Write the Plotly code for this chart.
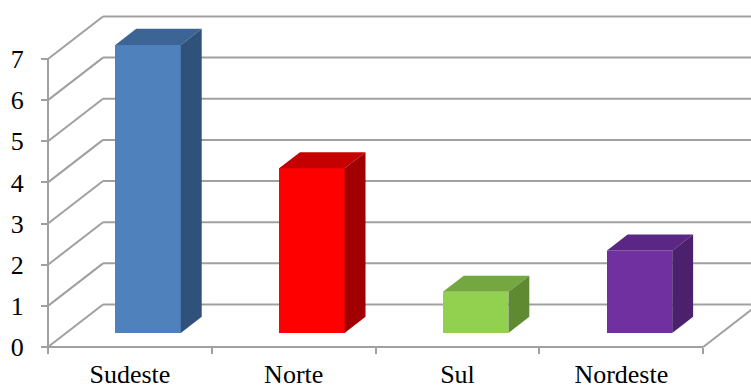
import plotly.graph_objects as go

# Data
categories = ["Sudeste", "Norte", "Sul", "Nordeste"]
values = [7, 4, 1, 2]
tick_values = [0, 1, 2, 3, 4, 5, 6, 7]

front_colors = ["#4F81BD", "#FF0000", "#92D050", "#7030A0"]
top_colors = ["#3C6495", "#C40000", "#74A73F", "#5B2784"]
side_colors = ["#30527A", "#A00000", "#5F8A32", "#4B206C"]

# Oblique 3-D layout (pixel geometry of the chart box)
W, H = 751, 389
X0_PX, Y0_PX = 48, 347          # front-left floor corner
CAT_PX, VAL_PX = 163.8, 41.15   # one category / one value unit
DEPTH_DX_PX, DEPTH_DY_PX = 55, 42.5

x_range = [-X0_PX / CAT_PX, (W - X0_PX) / CAT_PX]
y_range = [-(H - Y0_PX) / VAL_PX, Y0_PX / VAL_PX]
DX = DEPTH_DX_PX / CAT_PX
DY = DEPTH_DY_PX / VAL_PX
D_FRONT, D_BACK = 0.33, 0.71
HALF_W = 0.2
n = len(categories)
v_max = max(tick_values)
GRID = "#A0A0A0"


def proj(x, v, d):
    return x + d * DX, v + d * DY


fig = go.Figure()

# Walls, floor and gridlines (drawn beneath the bars)
segments = []
for v in tick_values:
    segments.append((proj(0, v, 1), proj(x_range[1] + 1, v, 1)))  # back wall
    segments.append((proj(0, v, 0), proj(0, v, 1)))                # side wall
segments.append(((0, 0), (0, v_max)))                              # value edge
segments.append((proj(0, 0, 0), proj(n, 0, 0)))                    # floor front
segments.append((proj(n, 0, 0), proj(n, 0, 1)))                    # floor right

for (xa, ya), (xb, yb) in segments:
    fig.add_shape(type="line", xref="x", yref="y",
                  x0=xa, y0=ya, x1=xb, y1=yb, layer="below",
                  line=dict(color=GRID, width=2))

# Bar front faces
centers = [i + 0.5 for i in range(n)]
fig.add_trace(go.Bar(
    x=[c + D_FRONT * DX for c in centers], y=values,
    base=[D_FRONT * DY] * n, width=2 * HALF_W,
    marker=dict(color=front_colors, line=dict(width=0)),
    showlegend=False, hoverinfo="skip"))

# Bar top and side faces
for c, v, tc, sc in zip(centers, values, top_colors, side_colors):
    top = [proj(c - HALF_W, v, D_FRONT), proj(c + HALF_W, v, D_FRONT),
           proj(c + HALF_W, v, D_BACK), proj(c - HALF_W, v, D_BACK)]
    side = [proj(c + HALF_W, 0, D_FRONT), proj(c + HALF_W, v, D_FRONT),
            proj(c + HALF_W, v, D_BACK), proj(c + HALF_W, 0, D_BACK)]
    for poly, col in ((top, tc), (side, sc)):
        fig.add_trace(go.Scatter(
            x=[p[0] for p in poly] + [poly[0][0]],
            y=[p[1] for p in poly] + [poly[0][1]],
            mode="lines", fill="toself", fillcolor=col,
            line=dict(width=0, color=col),
            hoverinfo="skip", showlegend=False))

font = dict(family="Liberation Serif, Times New Roman, serif", size=26,
            color="black")

fig.update_layout(
    width=W, height=H,
    margin=dict(l=0, r=0, t=0, b=0, pad=0),
    paper_bgcolor="white", plot_bgcolor="white",
    bargap=0,
    xaxis=dict(range=x_range, anchor="free", position=(H - Y0_PX) / H,
               tickmode="array", tickvals=centers, ticktext=categories,
               ticks="outside", ticklen=0, tickfont=font,
               ticklabelstandoff=4, automargin=False,
               minor=dict(tickmode="array", tickvals=list(range(n + 1)),
                          ticks="outside", ticklen=6, tickwidth=2,
                          tickcolor=GRID),
               showgrid=False, zeroline=False, showline=False,
               fixedrange=True),
    yaxis=dict(range=y_range, anchor="free", position=X0_PX / W,
               tickmode="array", tickvals=tick_values,
               ticks="outside", ticklen=7, tickwidth=2, tickcolor=GRID,
               tickfont=font, ticklabelstandoff=12, automargin=False,
               showgrid=False, zeroline=False, showline=False,
               fixedrange=True),
)

fig.write_html("out.html")
